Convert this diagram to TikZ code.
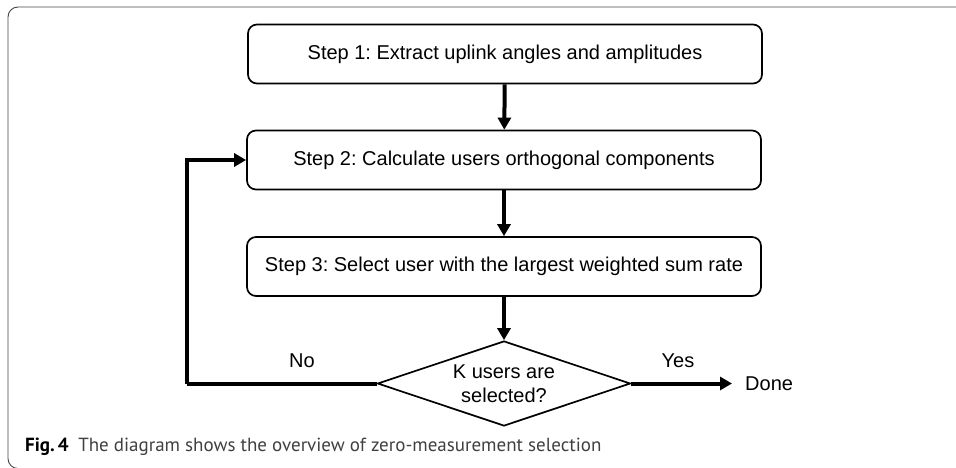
\documentclass[tikz,border=0pt]{standalone}
\usepackage{fontspec}
\setmainfont{Liberation Sans}
\newfontfamily\capfont{PT Sans}
\usetikzlibrary{shapes.geometric,arrows.meta}
\definecolor{capgray}{gray}{0.25}
\frenchspacing
\begin{document}
\begin{tikzpicture}[x=1pt,y=-1pt,
  stepbox/.style={draw, rounded corners=9pt, line width=1.7pt, minimum width=514pt, minimum height=59pt, inner sep=0pt, font=\fontsize{20}{24}\selectfont},
  flow/.style={line width=4pt, -{Triangle[length=12pt,width=13pt]}},
  lbl/.style={font=\fontsize{20}{24}\selectfont, inner sep=0pt}
]
\useasboundingbox (0,0) rectangle (956,468);
\draw[gray!55!black, line width=0.9pt, rounded corners=10pt] (40,468.5) -- (8,468.5) -- (8,7) -- (970,7);

\node[stepbox] (s1) at (505,54) {Step 1: Extract uplink angles and amplitudes};
\node[stepbox] (s2) at (504,160) {Step 2: Calculate users orthogonal components};
\node[stepbox] (s3) at (504,266.5) {Step 3: Select user with the largest weighted sum rate};
\node[diamond, draw, line width=1.7pt, minimum width=253pt, minimum height=85pt, aspect=2.98, inner sep=0pt, align=center, font=\fontsize{20}{24}\selectfont] (d) at (504,383.5) {K users are\\selected?};

\draw[flow] (s1) -- (s2);
\draw[flow] (s2) -- (s3);
\draw[flow] (s3) -- (d);

\coordinate (loop) at (186.5,383.5);
\draw[flow, -] (d.west) -- (loop);
\draw[flow] (loop) |- (s2.west);

\node[lbl, anchor=west] (done) at (745,383.5) {Done};
\draw[flow] (d.east) -- ([xshift=-13pt]done.west);

\node[lbl] (no) at (302,361) {No};
\node[lbl] (yes) at (678,361) {Yes};

\node[anchor=west, inner sep=0pt, font=\fontsize{19}{23}\selectfont, text=capgray] (cap) at (25,447) {\capfont\textbf{\color{black}Fig.\,4}\enspace The diagram shows the overview of zero-measurement selection};
\end{tikzpicture}
\end{document}
